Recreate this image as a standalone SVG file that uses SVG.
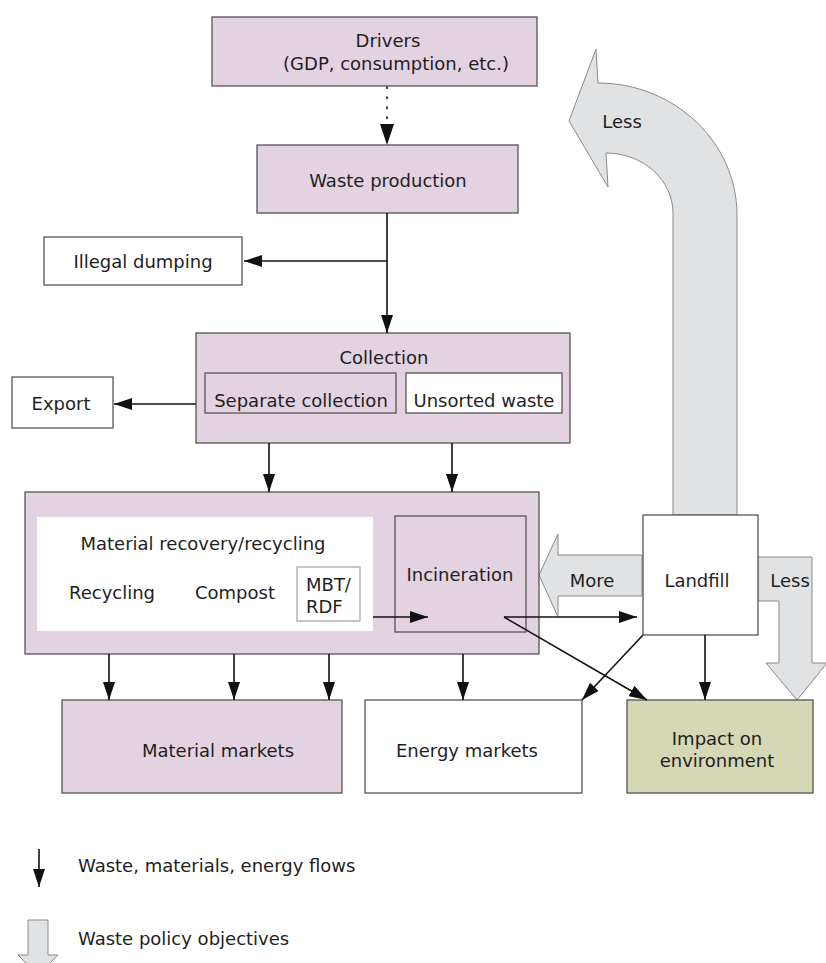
<svg xmlns="http://www.w3.org/2000/svg" width="826" height="963" viewBox="0 0 826 963">
<defs>
<style>
text{font-family:"DejaVu Sans","Verdana",sans-serif;font-size:18px;fill:#1e1e1e;}
.c{text-anchor:middle;}
.pink{fill:#e3d3e1;stroke:#555;stroke-width:1.3;}
.white{fill:#fff;stroke:#555;stroke-width:1.3;}
.lw{fill:#fff;stroke:#aaa;stroke-width:1.3;}
.olive{fill:#d5d7b5;stroke:#555;stroke-width:1.3;}
.big{fill:#e1e2e4;stroke:#8a8a8a;stroke-width:1;}
.ln{fill:none;stroke:#111;stroke-width:1.6;}
</style>
<marker id="ah" markerUnits="userSpaceOnUse" markerWidth="18" markerHeight="12" refX="18" refY="6" orient="auto" viewBox="0 0 18 12">
<path d="M0,0 L18,6 L0,12 z" fill="#111"/>
</marker>
<marker id="ahl" markerUnits="userSpaceOnUse" markerWidth="21" markerHeight="14" refX="21" refY="7" orient="auto" viewBox="0 0 21 14">
<path d="M0,0 L21,7 L0,14 z" fill="#111"/>
</marker>
</defs>

<g id="policy-arrows">
<path class="big" d="M673,515 L673,213 C673,180 643,153 606,153 L608,187 L569,121 L596,49 L598,83 C674,83 737,142 737,215 L737,515 Z"/>
<polygon class="big" points="642,555 558,555 558,534 539,575 558,617 558,596 642,596"/>
<polygon class="big" points="758,557 812,557 812,663 827,663 797,700 766,663 779,663 779,601 758,601"/>
</g>

<g id="drivers">
<rect class="pink" x="212" y="17" width="325" height="69"/>
<text class="c" x="388" y="46.5">Drivers</text>
<text class="c" x="396" y="69.5">(GDP, consumption, etc.)</text>
</g>
<g id="waste-production">
<rect class="pink" x="257" y="145" width="261" height="68"/>
<text class="c" x="388" y="186.5">Waste production</text>
</g>
<g id="illegal-dumping">
<rect class="white" x="44" y="237" width="198" height="48"/>
<text class="c" x="143" y="267.5">Illegal dumping</text>
</g>
<g id="collection">
<rect class="pink" x="196" y="333" width="374" height="110"/>
<text class="c" x="384" y="363.5">Collection</text>
</g>
<g id="separate-collection">
<rect class="pink" x="205" y="373" width="191" height="40"/>
<text class="c" x="301" y="406.5">Separate collection</text>
</g>
<g id="unsorted-waste">
<rect class="white" x="406" y="373" width="156" height="40"/>
<text class="c" x="484" y="406.5">Unsorted waste</text>
</g>
<g id="export">
<rect class="white" x="12" y="377" width="101" height="51"/>
<text class="c" x="61" y="409.5">Export</text>
</g>
<g id="treatment">
<rect class="pink" x="25" y="492" width="514" height="162"/>
</g>
<g id="material-recovery">
<rect x="37" y="517" width="336" height="114" fill="#fff"/>
<text class="c" x="203" y="549.5">Material recovery/recycling</text>
<text class="c" x="112" y="598.5">Recycling</text>
<text class="c" x="235" y="598.5">Compost</text>
</g>
<g id="mbt-rdf">
<rect class="lw" x="297" y="567" width="63" height="54"/>
<text x="306" y="590.5">MBT/</text>
<text x="306" y="612.5">RDF</text>
</g>
<g id="incineration">
<rect x="395" y="516" width="131" height="116" fill="none" stroke="#555" stroke-width="1.3"/>
<text class="c" x="460" y="580.5">Incineration</text>
</g>
<g id="landfill">
<rect class="white" x="643" y="515" width="115" height="120"/>
<text class="c" x="697" y="586.5">Landfill</text>
</g>
<g id="policy-labels">
<text class="c" x="622" y="128">Less</text>
<text class="c" x="592" y="586.5">More</text>
<text class="c" x="790" y="586.5">Less</text>
</g>
<g id="material-markets">
<rect class="pink" x="62" y="700" width="280" height="93"/>
<text class="c" x="218" y="756.5">Material markets</text>
</g>
<g id="energy-markets">
<rect class="white" x="365" y="700" width="217" height="93"/>
<text class="c" x="467" y="756.5">Energy markets</text>
</g>
<g id="impact">
<rect class="olive" x="627" y="700" width="186" height="93"/>
<text class="c" x="717" y="744.5">Impact on</text>
<text class="c" x="717" y="766.5">environment</text>
</g>

<g id="connectors">
<line class="ln" x1="387" y1="87" x2="387" y2="145" stroke-dasharray="1.5 8.5" stroke-linecap="round" stroke-width="2" marker-end="url(#ahl)"/>
<line class="ln" x1="387" y1="213" x2="387" y2="333" marker-end="url(#ah)"/>
<line class="ln" x1="387" y1="261" x2="244" y2="261" marker-end="url(#ah)"/>
<line class="ln" x1="196" y1="404" x2="114" y2="404" marker-end="url(#ah)"/>
<line class="ln" x1="269" y1="443" x2="269" y2="492" marker-end="url(#ah)"/>
<line class="ln" x1="452" y1="443" x2="452" y2="492" marker-end="url(#ah)"/>
<line class="ln" x1="373" y1="617" x2="428" y2="617" marker-end="url(#ah)"/>
<line class="ln" x1="504" y1="617" x2="637" y2="617" marker-end="url(#ah)"/>
<line class="ln" x1="504" y1="617" x2="647" y2="700" marker-end="url(#ah)"/>
<line class="ln" x1="643" y1="635" x2="582" y2="700" marker-end="url(#ah)"/>
<line class="ln" x1="705" y1="635" x2="705" y2="700" marker-end="url(#ah)"/>
<line class="ln" x1="109" y1="654" x2="109" y2="700" marker-end="url(#ah)"/>
<line class="ln" x1="234" y1="654" x2="234" y2="700" marker-end="url(#ah)"/>
<line class="ln" x1="329" y1="654" x2="329" y2="700" marker-end="url(#ah)"/>
<line class="ln" x1="463" y1="654" x2="463" y2="700" marker-end="url(#ah)"/>
</g>

<g id="legend">
<line class="ln" x1="39" y1="849" x2="39" y2="887" marker-end="url(#ah)"/>
<text x="78" y="871.5">Waste, materials, energy flows</text>
<polygon class="big" points="28,920 48,920 48,955 58,955 38,975 18,955 28,955"/>
<text x="78" y="944.5">Waste policy objectives</text>
</g>
</svg>
